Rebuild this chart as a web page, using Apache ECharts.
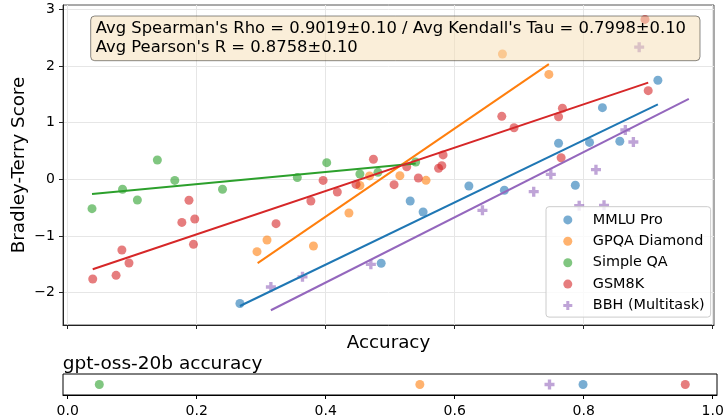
<!DOCTYPE html>
<html><head><meta charset="utf-8">
<script src="https://cdn.jsdelivr.net/npm/echarts@6/dist/echarts.min.js"></script>
<style>html,body{margin:0;padding:0;background:#fff}#c{width:724px;height:419px}</style>
</head><body><div id="c"></div>
<script>
const seriesNames = ['MMLU Pro', 'GPQA Diamond', 'Simple QA', 'GSM8K', 'BBH (Multitask)'];
const seriesColors = ['#1f77b4', '#ff7f0e', '#2ca02c', '#d62728', '#9467bd'];

const mmluPro = [[0.267,-2.19],[0.486,-1.48],[0.531,-0.383],[0.551,-0.577],[0.622,-0.118],[0.677,-0.194],
  [0.761,0.635],[0.787,-0.106],[0.809,0.65],[0.856,0.67],[0.829,1.263],[0.915,1.746]];
const gpqaDiamond = [[0.2935,-1.277],[0.309,-1.07],[0.381,-1.176],[0.436,-0.594],[0.453,-0.11],[0.468,0.06],
  [0.515,0.064],[0.5555,-0.018],[0.674,2.21],[0.746,1.85]];
const simpleQA = [[0.0377,-0.518],[0.085,-0.176],[0.108,-0.365],[0.139,0.34],[0.166,-0.02],[0.240,-0.176],
  [0.356,0.03],[0.4016,0.293],[0.453,0.094],[0.481,0.123],[0.5395,0.305]];
const gsm8k = [[0.0388,-1.758],[0.075,-1.694],[0.084,-1.247],[0.095,-1.476],[0.177,-0.76],[0.188,-0.37],
  [0.195,-1.147],[0.197,-0.70],[0.323,-0.783],[0.377,-0.383],[0.396,-0.02],[0.418,-0.224],[0.447,-0.09],
  [0.474,0.353],[0.506,-0.095],[0.5256,0.222],[0.5436,0.023],[0.575,0.194],[0.580,0.24],[0.582,0.43],
  [0.673,1.11],[0.692,0.91],[0.761,1.104],[0.765,0.38],[0.767,1.252],[0.895,2.82],[0.900,1.563]];
const bbh = [[0.315,-1.9],[0.364,-1.72],[0.470,-1.5],[0.643,-0.547],[0.7225,-0.218],[0.749,0.088],
  [0.793,-0.465],[0.819,0.17],[0.8315,-0.459],[0.8645,0.87],[0.877,0.658],[0.886,2.33]];

const fitMmluPro = [[0.267,-2.235],[0.915,1.32]];
const fitGpqa = [[0.2945,-1.48],[0.746,2.03]];
const fitSimpleQA = [[0.0377,-0.259],[0.5395,0.28]];
const fitGsm8k = [[0.0388,-1.587],[0.900,1.704]];
const fitBbh = [[0.315,-2.31],[0.963,1.42]];

const gptOss20bAcc = [0.799, 0.546, 0.049, 0.9575, 0.747];

const xTicks = [0, 0.2, 0.4, 0.6, 0.8, 1.0];
const yTicks = [-2, -1, 0, 1, 2, 3];
const statsLines = ["Avg Spearman's Rho = 0.9019\u00b10.10 / Avg Kendall's Tau = 0.7998\u00b10.10",
                    "Avg Pearson's R = 0.8758\u00b10.10"];

const scatterData = [mmluPro, gpqaDiamond, simpleQA, gsm8k, bbh];
const fitData = [fitMmluPro, fitGpqa, fitSimpleQA, fitGsm8k, fitBbh];
const PLUS = 'path://M3,0H6V3H9V6H6V9H3V6H0V3H3Z';
const FONT = 'DejaVu Sans';
const symbols = ['circle','circle','circle','circle',PLUS];
const symSizes = [9,9,9,9,10];

const series = [];
seriesNames.forEach((n, i) => {
  series.push({
    name: n, type: 'scatter', xAxisIndex: 0, yAxisIndex: 0, data: scatterData[i],
    symbol: symbols[i], symbolSize: symSizes[i],
    itemStyle: { color: seriesColors[i], opacity: 0.6 }, emphasis: { disabled: true }
  });
  series.push({
    name: n + ' fit', type: 'line', xAxisIndex: 0, yAxisIndex: 0, data: fitData[i],
    showSymbol: false, symbol: 'none', silent: true,
    lineStyle: { color: seriesColors[i], width: 2 }, itemStyle: { color: seriesColors[i] },
    emphasis: { disabled: true }
  });
});
seriesNames.forEach((n, i) => {
  series.push({
    name: n, type: 'scatter', xAxisIndex: 1, yAxisIndex: 1, data: [[gptOss20bAcc[i], 0]],
    symbol: symbols[i], symbolSize: symSizes[i],
    itemStyle: { color: seriesColors[i], opacity: 0.6 }, emphasis: { disabled: true }
  });
});

const minus = v => (v < 0 ? '\u2212' + Math.abs(v) : String(v));

const chart = echarts.init(document.getElementById('c'), null, { renderer: 'canvas' });
chart.setOption({
  animation: false,
  backgroundColor: '#fff',
  textStyle: { fontFamily: FONT },
  grid: [
    { left: 63, top: 5, width: 651, height: 320, show: true, borderColor: '#555', borderWidth: 1,
      backgroundColor: 'transparent', outerBoundsMode: 'none' },
    { left: 63, top: 374, width: 654, height: 21, show: true, borderColor: '#000', borderWidth: 1,
      backgroundColor: 'transparent', outerBoundsMode: 'none' }
  ],
  xAxis: [
    { type: 'value', gridIndex: 0, min: -0.00729, max: 1.002,
      name: 'Accuracy', nameLocation: 'middle', nameGap: 9, nameMoveOverlap: false,
      nameTextStyle: { fontSize: 18.3, color: '#000', fontFamily: FONT },
      axisLine: { show: true, onZero: false, lineStyle: { color: '#222' } },
      axisTick: { show: true, length: 4, customValues: xTicks, lineStyle: { color: '#222' } },
      axisLabel: { show: false, customValues: xTicks },
      splitLine: { show: true, lineStyle: { color: '#e6e6e6', width: 1 } } },
    { type: 'value', gridIndex: 1, min: -0.00729, max: 1.0067,
      axisLine: { show: true, onZero: false, lineStyle: { color: '#000' } },
      axisTick: { show: true, length: 4, customValues: xTicks, lineStyle: { color: '#000' } },
      axisLabel: { show: true, customValues: xTicks, formatter: v => v.toFixed(1), fontSize: 14,
        color: '#000', margin: 9, fontFamily: FONT },
      splitLine: { show: false } }
  ],
  yAxis: [
    { type: 'value', gridIndex: 0, min: -2.570, max: 3.074,
      name: 'Bradley-Terry Score', nameLocation: 'middle', nameGap: 34.5, nameRotate: 90,
      nameMoveOverlap: false,
      nameTextStyle: { fontSize: 18.3, color: '#000', fontFamily: FONT },
      axisLine: { show: true, onZero: false, lineStyle: { color: '#222' } },
      axisTick: { show: true, length: 4, customValues: yTicks, lineStyle: { color: '#222' } },
      axisLabel: { show: true, customValues: yTicks, formatter: minus, fontSize: 14, color: '#000',
        margin: 8, fontFamily: FONT },
      splitLine: { show: true, lineStyle: { color: '#e6e6e6', width: 1 } } },
    { type: 'value', gridIndex: 1, min: -1, max: 1, show: false,
      axisLine: { show: false }, axisTick: { show: false }, axisLabel: { show: false }, splitLine: { show: false } }
  ],
  legend: {
    orient: 'vertical', left: 546, top: 206.7,
    data: seriesNames.map((n, i) => ({ name: n, itemStyle: { opacity: 0.6 } })),
    itemWidth: 40, itemHeight: 9, itemGap: 7.4,
    padding: [6.2, 6, 4.6, 17.3],
    backgroundColor: 'rgba(255,255,255,0.8)', borderColor: '#cccccc', borderWidth: 1, borderRadius: 3,
    textStyle: { fontSize: 14.4, color: '#000', fontFamily: FONT },
    selectedMode: false, z: 50
  },
  graphic: [
    { type: 'rect', z: 100, shape: { x: 90.7, y: 16, width: 609.3, height: 44.7, r: 4 },
      style: { fill: 'rgba(245,222,179,0.5)', stroke: 'rgba(0,0,0,0.45)', lineWidth: 1 } },
    { type: 'text', z: 101, x: 95.7, y: 29.1,
      style: { text: statsLines[0], fontSize: 16.4, fontFamily: FONT, fill: '#000', verticalAlign: 'middle', align: 'left' } },
    { type: 'text', z: 101, x: 95.7, y: 47.4,
      style: { text: statsLines[1], fontSize: 16.4, fontFamily: FONT, fill: '#000', verticalAlign: 'middle', align: 'left' } },
    { type: 'text', z: 101, x: 62.7, y: 364.5,
      style: { text: 'gpt-oss-20b accuracy', fontSize: 18.5, fontFamily: FONT, fill: '#000', verticalAlign: 'middle', align: 'left' } }
  ],
  series: series
});
</script></body></html>
